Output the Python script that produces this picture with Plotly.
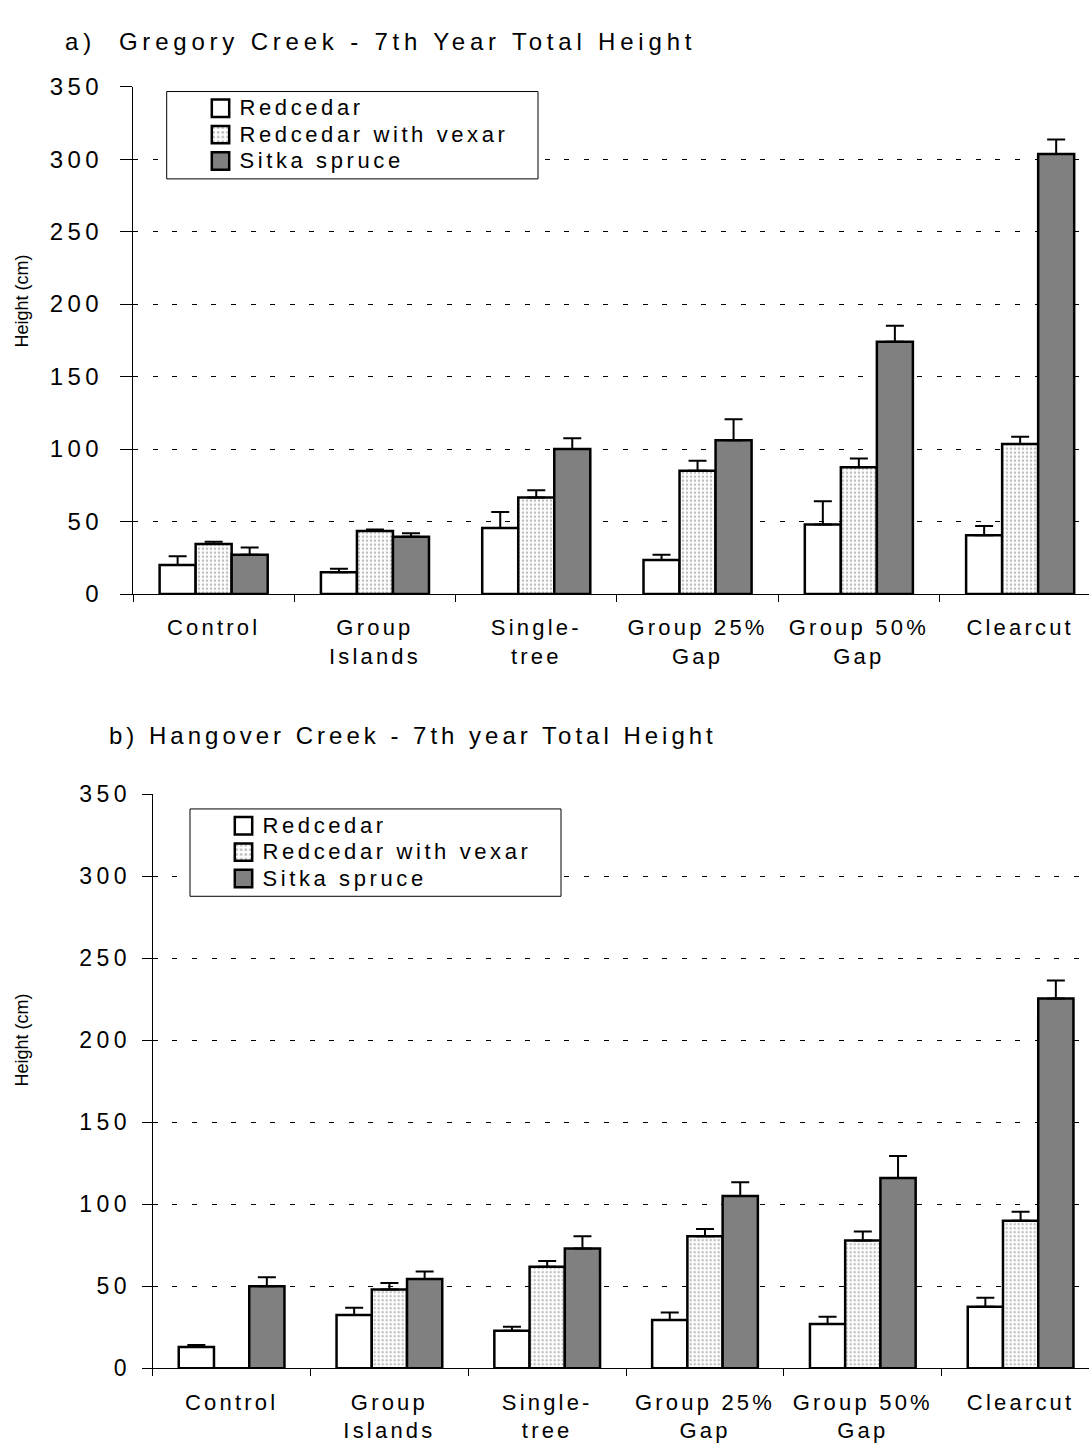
import plotly.graph_objects as go

# Treatments along the x axis and the three planting series
categories = ["Control", "Group<br>Islands", "Single-<br>tree",
              "Group 25%<br>Gap", "Group 50%<br>Gap", "Clearcut"]
series_names = ["Redcedar", "Redcedar with vexar", "Sitka spruce"]
y_ticks = [0, 50, 100, 150, 200, 250, 300, 350]

# a) Gregory Creek: mean 7th-year total height (cm) and standard error
gregory_redcedar = [20, 15, 45.5, 23.5, 48, 40.5]
gregory_redcedar_se = [6, 2.5, 11, 3.5, 16, 6.5]
gregory_vexar = [34.5, 43.5, 66.5, 85, 87.5, 103.5]
gregory_vexar_se = [1.5, 1, 5, 7, 6, 5]
gregory_sitka = [27, 39.5, 100, 106, 174, 303.5]
gregory_sitka_se = [5, 2.5, 7.5, 14.5, 11, 10]

# b) Hangover Creek: mean 7th-year total height (cm) and standard error
hangover_redcedar = [13, 32.5, 23, 29.5, 27, 37.5]
hangover_redcedar_se = [1.2, 4.5, 2.3, 4.5, 4.5, 5.5]
hangover_vexar = [0, 48, 62, 80.5, 78, 90]
hangover_vexar_se = [0, 4, 3.5, 4.5, 5.5, 5.5]
hangover_sitka = [50, 54.5, 73, 105, 116, 225.5]
hangover_sitka_se = [5.5, 4.5, 7.5, 8.5, 13.5, 11]

W, H = 1089, 1453
FONT = "Liberation Sans, Arial, Helvetica, sans-serif"


def px(x):
    return x / W


def py(y):
    return 1 - y / H


fills = [
    dict(color="white"),
    dict(color="white",
         pattern=dict(shape=".", fgcolor="#7a7a7a", bgcolor="white",
                      size=4, solidity=0.3)),
    dict(color="#808080"),
]

fig = go.Figure()


def add_panel(values, errors, xa, ya, legend):
    for name, vals, se, fill in zip(series_names, values, errors, fills):
        fig.add_trace(go.Bar(
            x=categories, y=vals, name=name,
            marker=dict(**fill, line=dict(color="black", width=2.5)),
            error_y=dict(type="data", array=se, arrayminus=[0] * len(se),
                         symmetric=False, color="black", thickness=2, width=9),
            xaxis=xa, yaxis=ya, legend=legend,
        ))


add_panel([gregory_redcedar, gregory_vexar, gregory_sitka],
          [gregory_redcedar_se, gregory_vexar_se, gregory_sitka_se],
          "x", "y", "legend")
add_panel([hangover_redcedar, hangover_vexar, hangover_sitka],
          [hangover_redcedar_se, hangover_vexar_se, hangover_sitka_se],
          "x2", "y2", "legend2")

xaxis_common = dict(
    type="category", showline=True, linecolor="black", linewidth=1,
    ticks="outside", tickson="boundaries", ticklen=7, tickcolor="black",
    tickwidth=1, showgrid=False, zeroline=False,
    tickfont=dict(family=FONT, size=22, color="black"),
)
yaxis_common = dict(
    range=[0, 350], tickmode="array", tickvals=y_ticks,
    showline=True, linecolor="black", linewidth=1,
    ticks="outside", tickcolor="black", tickwidth=1,
    showgrid=True, gridcolor="black", gridwidth=1, griddash="5px,14.6px",
    zeroline=False,
)

# Legend rows are laid out on an 18 px grid; the key text itself is
# rendered larger by the stylesheet below.
legend_common = dict(
    xanchor="left", yanchor="top", bgcolor="rgba(0,0,0,0)", borderwidth=0,
    font=dict(family=FONT, size=18, color="black"), tracegroupgap=0,
)

fig.update_layout(
    width=W, height=H, margin=dict(l=0, r=0, t=0, b=0),
    paper_bgcolor="white", plot_bgcolor="white",
    barmode="group", bargap=0.33, bargroupgap=0,
    font=dict(family=FONT, color="black"),
    xaxis=dict(**xaxis_common, domain=[px(133), 1],
               range=[-0.5, -0.5 + (W - 133) / 161.3], anchor="y",
               ticklabelstandoff=14),
    yaxis=dict(**yaxis_common, domain=[py(591), py(74)], anchor="x",
               ticklen=12, ticklabelstandoff=12,
               tickfont=dict(family=FONT, size=24, color="black")),
    xaxis2=dict(**xaxis_common, domain=[px(152.7), 1],
                range=[-0.5, -0.5 + (W - 152.7) / 157.8], anchor="y2",
                ticklabelstandoff=14),
    yaxis2=dict(**yaxis_common, domain=[py(1380), py(795)], anchor="x2",
                ticklen=10, ticklabelstandoff=6,
                tickfont=dict(family=FONT, size=23, color="black")),
    legend=dict(**legend_common, x=px(199.5), y=py(77.5)),
    legend2=dict(**legend_common, x=px(222.5), y=py(808.5)),
    showlegend=True,
)

# Legend frames (white boxes that mask the grid behind the keys)
for x0, y0, x1, y1 in [(166.7, 79, 538, 168), (190, 810, 561, 899)]:
    fig.add_shape(type="rect", xref="paper", yref="paper",
                  x0=px(x0), x1=px(x1), y0=py(y1), y1=py(y0),
                  line=dict(color="black", width=1), fillcolor="white",
                  layer="above")

# Panel titles
fig.add_annotation(text="a)\u00a0 Gregory Creek - 7th Year Total Height",
                   xref="paper", yref="paper", x=px(63), y=py(28),
                   xanchor="left", yanchor="middle", align="left",
                   showarrow=False,
                   font=dict(family=FONT, size=24, color="black"))
fig.add_annotation(text="b) Hangover Creek - 7th year Total Height",
                   xref="paper", yref="paper", x=px(107), y=py(735),
                   xanchor="left", yanchor="middle", align="left",
                   showarrow=False,
                   font=dict(family=FONT, size=24, color="black"))

# Y-axis titles
for yc in (293, 1046):
    fig.add_annotation(text="Height (cm)", xref="paper", yref="paper",
                       x=px(22), y=py(yc), xanchor="center", yanchor="middle",
                       textangle=-90, showarrow=False,
                       font=dict(family=FONT, size=18, color="black"))

# Wide tracking for the chart lettering (the axis titles keep normal spacing),
# and larger legend keys
tracking = """
var css = document.createElement('style');
css.textContent =
  '.xtick text, .x2tick text { letter-spacing: 3.2px; }' +
  '.ytick text, .y2tick text { letter-spacing: 4.5px; }' +
  '.legendtext, .legend2text { font-size: 22px !important; letter-spacing: 3.6px; }' +
  '.legendpoints path { transform: translate(21px, 0px) scale(1.45); vector-effect: non-scaling-stroke; }' +
  '.annotation[data-index="0"] text { letter-spacing: 4.8px; }' +
  '.annotation[data-index="1"] text { letter-spacing: 4.0px; }' +
  '.scrollbox { clip-path: none; }';
document.head.appendChild(css);
"""

fig.write_html("out.html", post_script=tracking)
